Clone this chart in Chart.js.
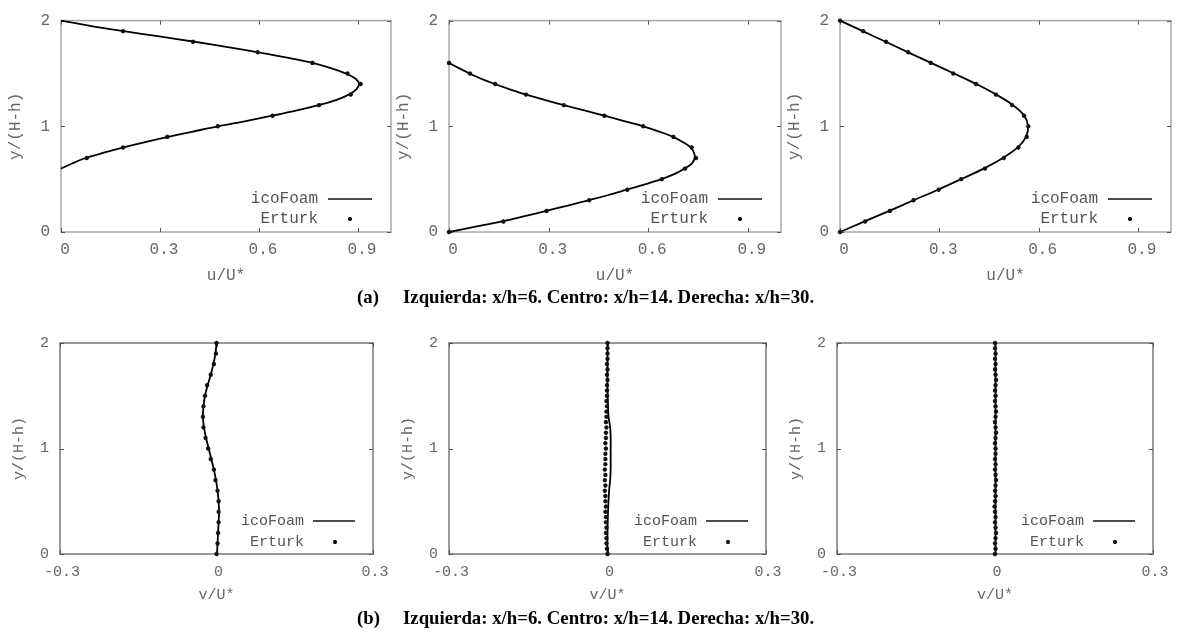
<!DOCTYPE html>
<html>
<head>
<meta charset="utf-8">
<script src="https://cdn.jsdelivr.net/npm/chart.js@4.4.1/dist/chart.umd.min.js"></script>
<style>
  body { margin: 0; background: #fff; width: 1179px; height: 632px; position: relative; overflow: hidden; }
  canvas { position: absolute; left: 0; top: 0; }
  .cap { position: absolute; font: bold 18.8px "Liberation Serif", "Times New Roman", serif; line-height: 20px; color: #000; white-space: nowrap; }
</style>
</head>
<body>
<canvas id="a6" width="1179" height="632"></canvas>
<canvas id="a14" width="1179" height="632"></canvas>
<canvas id="a30" width="1179" height="632"></canvas>
<canvas id="b6" width="1179" height="632"></canvas>
<canvas id="b14" width="1179" height="632"></canvas>
<canvas id="b30" width="1179" height="632"></canvas>
<div class="cap" style="left:357px;top:287px">(a)</div>
<div class="cap" style="left:403px;top:287px">Izquierda: x/h=6. Centro: x/h=14. Derecha: x/h=30.</div>
<div class="cap" style="left:357px;top:608px">(b)</div>
<div class="cap" style="left:403px;top:608px">Izquierda: x/h=6. Centro: x/h=14. Derecha: x/h=30.</div>
<script>
// ticks
const uTicks = [0, 0.3, 0.6, 0.9];
const uTickLabels = ["0", "0.3", "0.6", "0.9"];
const vTicks = [-0.3, 0, 0.3];
const vTickLabels = ["-0.3", "0", "0.3"];
const yTicks = [0, 1, 2];
const yTickLabels = ["0", "1", "2"];

// (a) u/U*, x/h=6
const a6ErturkY = [0.7, 0.8, 0.9, 1.0, 1.1, 1.2, 1.3, 1.4, 1.5, 1.6, 1.7, 1.8, 1.9];
const a6ErturkU = [0.078, 0.188, 0.322, 0.475, 0.641, 0.782, 0.878, 0.908, 0.868, 0.762, 0.596, 0.400, 0.188];
const a6FoamY = [0.6, 0.65, 0.7, 0.75, 0.8, 0.85, 0.9, 0.95, 1.0, 1.05, 1.1, 1.15, 1.2, 1.25, 1.3, 1.35, 1.4, 1.45, 1.5, 1.55, 1.6, 1.65, 1.7, 1.75, 1.8, 1.85, 1.9, 1.95, 2.0];
const a6FoamU = [0.0, 0.035, 0.075, 0.13, 0.19, 0.255, 0.325, 0.40, 0.475, 0.56, 0.64, 0.715, 0.78, 0.835, 0.872, 0.895, 0.903, 0.893, 0.862, 0.818, 0.762, 0.685, 0.598, 0.505, 0.405, 0.298, 0.19, 0.088, 0.0];

// (a) u/U*, x/h=14
const a14ErturkY = [0, 0.1, 0.2, 0.3, 0.4, 0.5, 0.6, 0.7, 0.8, 0.9, 1.0, 1.1, 1.2, 1.3, 1.4, 1.5, 1.6];
const a14ErturkU = [0.0, 0.164, 0.294, 0.422, 0.537, 0.641, 0.711, 0.744, 0.731, 0.676, 0.585, 0.468, 0.346, 0.232, 0.139, 0.063, 0.0];
const a14FoamY = [0, 0.05, 0.1, 0.15, 0.2, 0.25, 0.3, 0.35, 0.4, 0.45, 0.5, 0.55, 0.6, 0.65, 0.7, 0.75, 0.8, 0.85, 0.9, 0.95, 1.0, 1.05, 1.1, 1.15, 1.2, 1.25, 1.3, 1.35, 1.4, 1.45, 1.5, 1.55, 1.6];
const a14FoamU = [0.0, 0.08, 0.16, 0.228, 0.293, 0.358, 0.42, 0.48, 0.535, 0.59, 0.64, 0.68, 0.71, 0.732, 0.74, 0.738, 0.728, 0.705, 0.675, 0.633, 0.585, 0.528, 0.468, 0.408, 0.346, 0.288, 0.232, 0.183, 0.138, 0.097, 0.062, 0.03, 0.0];

// (a) u/U*, x/h=30
const a30ErturkY = [0, 0.1, 0.2, 0.3, 0.4, 0.5, 0.6, 0.7, 0.8, 0.9, 1.0, 1.1, 1.2, 1.3, 1.4, 1.5, 1.6, 1.7, 1.8, 1.9, 2.0];
const a30ErturkU = [0.0, 0.076, 0.151, 0.222, 0.298, 0.366, 0.438, 0.495, 0.539, 0.564, 0.569, 0.556, 0.520, 0.471, 0.411, 0.342, 0.274, 0.206, 0.139, 0.070, 0.0];
const a30FoamY = [0, 0.1, 0.2, 0.3, 0.4, 0.5, 0.6, 0.7, 0.8, 0.9, 1.0, 1.1, 1.2, 1.3, 1.4, 1.5, 1.6, 1.7, 1.8, 1.9, 2.0];
const a30FoamU = [0.0, 0.074, 0.149, 0.222, 0.296, 0.366, 0.434, 0.492, 0.537, 0.562, 0.568, 0.557, 0.523, 0.472, 0.412, 0.344, 0.275, 0.206, 0.138, 0.069, 0.0];

// (b) v/U*, x/h=6
const b6ErturkY = [0, 0.1, 0.2, 0.3, 0.4, 0.5, 0.6, 0.7, 0.8, 0.9, 1.0, 1.1, 1.2, 1.3, 1.4, 1.5, 1.6, 1.7, 1.8, 1.9, 2.0];
const b6ErturkV = [0.0, 0.002, 0.003, 0.004, 0.004, 0.004, 0.002, -0.002, -0.005, -0.011, -0.016, -0.021, -0.025, -0.026, -0.025, -0.022, -0.018, -0.011, -0.005, -0.001, 0.0];
const b6FoamY = [0, 0.1, 0.2, 0.3, 0.4, 0.5, 0.6, 0.7, 0.8, 0.9, 1.0, 1.1, 1.2, 1.3, 1.4, 1.5, 1.6, 1.7, 1.8, 1.9, 2.0];
const b6FoamV = [0.001, 0.002, 0.003, 0.004, 0.005, 0.004, 0.002, -0.001, -0.005, -0.010, -0.015, -0.020, -0.024, -0.026, -0.025, -0.022, -0.017, -0.011, -0.006, -0.002, 0.0];

// (b) v/U*, x/h=14
const b14ErturkY = [0, 0.05, 0.1, 0.15, 0.2, 0.25, 0.3, 0.35, 0.4, 0.45, 0.5, 0.55, 0.6, 0.65, 0.7, 0.75, 0.8, 0.85, 0.9, 0.95, 1.0, 1.05, 1.1, 1.15, 1.2, 1.25, 1.3, 1.35, 1.4, 1.45, 1.5, 1.55, 1.6, 1.65, 1.7, 1.75, 1.8, 1.85, 1.9, 1.95, 2.0];
const b14ErturkV = [0.0, -0.001, -0.002, -0.002, -0.003, -0.002, -0.003, -0.003, -0.004, -0.003, -0.004, -0.004, -0.005, -0.004, -0.005, -0.004, -0.005, -0.004, -0.004, -0.004, -0.003, -0.004, -0.003, -0.003, -0.002, -0.003, -0.002, -0.002, -0.001, -0.002, -0.001, -0.001, -0.001, 0.0, -0.001, 0.0, -0.001, 0.0, 0.0, 0.0, 0.0];
const b14FoamY = [0, 0.2, 0.4, 0.6, 0.7, 0.8, 0.9, 1.0, 1.1, 1.2, 1.3, 1.4, 1.6, 1.8, 2.0];
const b14FoamV = [0.0, 0.0, 0.001, 0.003, 0.005, 0.006, 0.006, 0.006, 0.006, 0.005, 0.002, 0.001, 0.0, 0.0, 0.0];

// (b) v/U*, x/h=30
const b30ErturkY = [0, 0.05, 0.1, 0.15, 0.2, 0.25, 0.3, 0.35, 0.4, 0.45, 0.5, 0.55, 0.6, 0.65, 0.7, 0.75, 0.8, 0.85, 0.9, 0.95, 1.0, 1.05, 1.1, 1.15, 1.2, 1.25, 1.3, 1.35, 1.4, 1.45, 1.5, 1.55, 1.6, 1.65, 1.7, 1.75, 1.8, 1.85, 1.9, 1.95, 2.0];
const b30ErturkV = [0.0, 0.001, 0.0, 0.001, 0.002, 0.001, 0.0, 0.001, 0.0, -0.001, 0.0, 0.001, 0.0, 0.001, 0.002, 0.001, 0.0, 0.001, 0.0, 0.001, 0.001, 0.0, 0.001, 0.002, 0.001, 0.0, 0.001, 0.002, 0.001, 0.0, 0.001, 0.0, 0.001, 0.002, 0.001, 0.0, 0.001, 0.0, 0.001, 0.0, 0.0];
const b30FoamY = [0, 0.5, 1.0, 1.5, 2.0];
const b30FoamV = [0.001, 0.001, 0.001, 0.001, 0.001];

// frame + inward gnuplot ticks
const framePlugin = {
  id: "frame",
  beforeDatasetsDraw(chart, args, o) {
    const { ctx, chartArea: a, scales: { x, y } } = chart;
    ctx.save();
    ctx.strokeStyle = o.color;
    ctx.lineWidth = o.width;
    ctx.strokeRect(a.left, a.top, a.right - a.left, a.bottom - a.top);
    ctx.strokeStyle = "#555";
    ctx.lineWidth = 1;
    ctx.beginPath();
    x.ticks.forEach(t => {
      const px = Math.round(x.getPixelForValue(t.value)) + 0.5;
      ctx.moveTo(px, a.bottom); ctx.lineTo(px, a.bottom - o.tick);
      ctx.moveTo(px, a.top); ctx.lineTo(px, a.top + o.tick);
    });
    y.ticks.forEach(t => {
      const py = Math.round(y.getPixelForValue(t.value)) + 0.5;
      ctx.moveTo(a.left, py); ctx.lineTo(a.left + o.tick, py);
      ctx.moveTo(a.right, py); ctx.lineTo(a.right - o.tick, py);
    });
    ctx.stroke();
    ctx.restore();
  }
};

// gnuplot style key inside the plot, bottom right
const keyPlugin = {
  id: "key",
  afterDatasetsDraw(chart, args, o) {
    const { ctx, chartArea: a } = chart;
    ctx.save();
    ctx.font = o.size + "px 'Liberation Mono', monospace";
    ctx.fillStyle = "#555";
    ctx.textAlign = "right";
    ctx.textBaseline = "middle";
    const tx = a.right - o.textRight;
    const y1 = a.bottom - o.row1;
    const y2 = a.bottom - o.row2;
    ctx.fillText("icoFoam", tx, y1);
    ctx.fillText("Erturk", tx, y2);
    ctx.strokeStyle = "#111";
    ctx.lineWidth = 1.5;
    ctx.beginPath();
    ctx.moveTo(a.right - o.lineFrom, y1);
    ctx.lineTo(a.right - o.lineTo, y1);
    ctx.stroke();
    Chart.helpers.drawPoint(ctx, { pointStyle: "star", radius: 2, borderWidth: 1 }, a.right - o.mark, y2);
    ctx.restore();
  }
};

function pts(xs, ys) {
  return xs.map((v, i) => ({ x: v, y: ys[i] }));
}

function panel(id, box, big, xCfg, foam, ertu) {
  const fs = big ? 16 : 15;
  const font = { family: "'Liberation Mono', monospace", size: fs };
  const xH = big ? 56 : 50;
  return new Chart(document.getElementById(id), {
    type: "scatter",
    data: {
      datasets: [
        {
          label: "Erturk",
          data: ertu,
          pointStyle: "star",
          pointRadius: 2.2,
          borderWidth: 1.3,
          borderColor: "#111",
          backgroundColor: "#111",
          clip: false,
          order: 0
        },
        {
          label: "icoFoam",
          data: foam,
          showLine: true,
          pointRadius: 0,
          borderColor: "#000",
          borderWidth: 1.8,
          tension: 0.35,
          clip: false,
          order: 1
        }
      ]
    },
    options: {
      responsive: false,
      animation: false,
      events: [],
      layout: {
        padding: {
          left: box.l - 61,
          top: box.t,
          right: 1179 - box.r,
          bottom: 632 - box.b - xH
        }
      },
      plugins: {
        legend: { display: false },
        tooltip: { enabled: false },
        frame: { color: big ? "#aaa" : "#999", width: big ? 1.5 : 2, tick: 4 },
        key: big
          ? { size: 16, textRight: 73, lineFrom: 63, lineTo: 19, mark: 41, row1: 33, row2: 13 }
          : { size: 15, textRight: 69, lineFrom: 60, lineTo: 18, mark: 38, row1: 33, row2: 12 }
      },
      scales: {
        x: {
          type: "linear",
          min: xCfg.min,
          max: xCfg.max,
          afterBuildTicks: s => { s.ticks = xCfg.ticks.map(v => ({ value: v })); },
          afterFit: s => { s.height = xH; },
          grid: { display: false, drawTicks: false },
          border: { display: false },
          ticks: {
            font: font,
            color: "#666",
            padding: big ? 8 : 9,
            labelOffset: big ? 4 : 2,
            autoSkip: false,
            maxRotation: 0,
            callback: (v, i) => xCfg.labels[i]
          },
          title: { display: true, text: xCfg.title, font: font, color: "#666", padding: { top: 0, bottom: big ? 2.4 : 0 } }
        },
        y: {
          type: "linear",
          min: 0,
          max: 2,
          afterBuildTicks: s => { s.ticks = yTicks.map(v => ({ value: v })); },
          afterFit: s => { s.width = 61; },
          grid: { display: false, drawTicks: false },
          border: { display: false },
          ticks: { font: font, color: "#666", padding: 11, callback: (v, i) => yTickLabels[i] },
          title: { display: true, text: "y/(H-h)", font: font, color: "#666", padding: { top: big ? 6.4 : 11, bottom: 0 } }
        }
      }
    },
    plugins: [framePlugin, keyPlugin]
  });
}

const uAxis = { min: 0, max: 1, ticks: uTicks, labels: uTickLabels, title: "u/U*" };
const vAxis = { min: -0.3, max: 0.3, ticks: vTicks, labels: vTickLabels, title: "v/U*" };

panel("a6", { l: 61, t: 11, r: 391, b: 232 }, true, uAxis, pts(a6FoamU, a6FoamY), pts(a6ErturkU, a6ErturkY));
panel("a14", { l: 449, t: 11, r: 781, b: 232 }, true, uAxis, pts(a14FoamU, a14FoamY), pts(a14ErturkU, a14ErturkY));
panel("a30", { l: 840, t: 11, r: 1171, b: 232 }, true, uAxis, pts(a30FoamU, a30FoamY), pts(a30ErturkU, a30ErturkY));
panel("b6", { l: 60, t: 343, r: 373, b: 554 }, false, vAxis, pts(b6FoamV, b6FoamY), pts(b6ErturkV, b6ErturkY));
panel("b14", { l: 449, t: 343, r: 766, b: 554 }, false, vAxis, pts(b14FoamV, b14FoamY), pts(b14ErturkV, b14ErturkY));
panel("b30", { l: 837, t: 343, r: 1153, b: 554 }, false, vAxis, pts(b30FoamV, b30FoamY), pts(b30ErturkV, b30ErturkY));
</script>
</body>
</html>
